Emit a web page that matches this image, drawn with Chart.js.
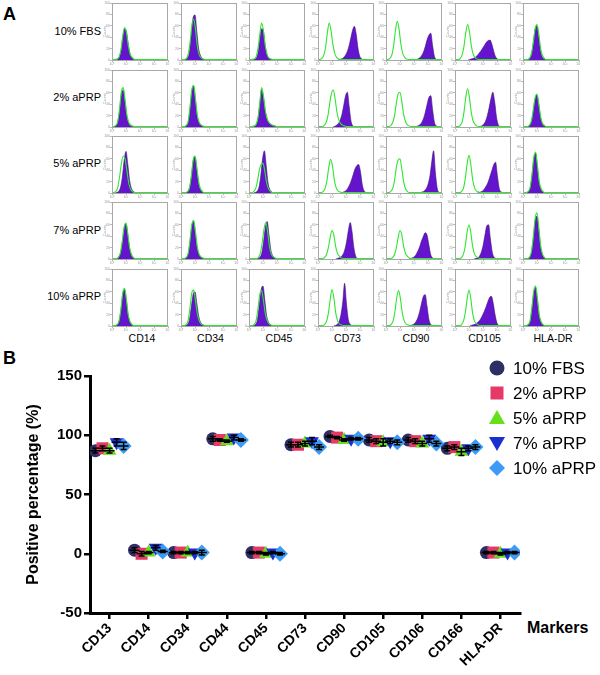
<!DOCTYPE html>
<html>
<head>
<meta charset="utf-8">
<script src="https://cdn.jsdelivr.net/npm/chart.js@4"></script>
<style>
  html, body { margin: 0; padding: 0; background: #fff; }
  body { width: 600px; height: 675px; position: relative; overflow: hidden;
         font-family: 'Liberation Sans', Arial, sans-serif; color: #000; }
  .lbl { position: absolute; white-space: nowrap; }
  canvas { position: absolute; }
</style>
</head>
<body>
<script>
// ---------------- Panel A data ----------------
const rowLabels = ['10% FBS', '2% aPRP', '5% aPRP', '7% aPRP', '10% aPRP'];
const colLabels = ['CD14', 'CD34', 'CD45', 'CD73', 'CD90', 'CD105', 'HLA-DR'];
const histXTicks = ['10⁰', '10¹', '10²', '10³', '10⁴'];
const histYTicks = [0, 20, 40, 60, 80, 100];
const binWidth = 0.13; // decades per histogram bin
// each entry: [peak position in decades, counts per bin], one per marker column
const isoFBS = [
  [0.9, [2,6,18,42,57,48,26,11,5,2,1]],
  [0.9, [1,3,10,30,60,72,55,25,10,4,2,1]],
  [0.9, [2,6,20,45,65,52,25,10,4,2,1]],
  [0.8, [1,3,8,22,48,65,52,28,12,5,2,1,1]],
  [0.8, [1,3,8,24,50,68,55,28,12,5,2,1]],
  [0.9, [1,3,9,24,48,62,50,26,11,5,2,1]],
  [1.0, [1,4,12,32,55,62,45,20,8,3,1]]
];
const posFBS = [
  [0.9, [1,4,15,40,55,50,28,10,4,1,0]],
  [1.0, [1,4,15,45,75,79,50,20,8,3,1,0]],
  [0.9, [1,3,12,35,55,50,25,8,3,1,0]],
  [2.6, [1,2,4,8,14,24,38,52,59,45,20,6,2,0]],
  [3.2, [2,4,8,14,24,36,44,47,25,6,1,0]],
  [2.5, [1,2,3,5,8,12,16,21,26,31,34,35,28,16,6,2,0]],
  [1.0, [1,3,10,30,55,60,40,15,5,2,0]]
];
const iso2 = [
  [0.8, [1,3,10,32,62,69,48,22,9,4,2,1]],
  [0.9, [1,3,10,35,65,73,50,22,9,4,2,1]],
  [0.9, [2,5,16,42,69,55,30,15,8,5,3,2,1]],
  [1.1, [1,3,8,20,42,60,65,48,25,12,6,3,2,1]],
  [1.0, [1,3,8,20,42,58,61,45,22,10,4,2,1]],
  [0.9, [1,3,9,26,52,67,52,26,11,5,2,1]],
  [1.0, [1,4,12,32,52,58,40,18,7,3,1]]
];
const pos2 = [
  [0.8, [1,2,8,28,58,65,45,18,6,2,1,0]],
  [0.9, [1,2,8,30,62,72,48,18,7,3,1,0]],
  [0.9, [1,4,14,40,66,52,28,14,8,5,3,2,1]],
  [2.1, [1,3,6,12,22,38,55,61,35,10,2,0]],
  [3.2, [1,2,4,8,15,26,40,52,55,30,8,2,0]],
  [2.7, [1,2,5,10,20,34,50,61,45,18,4,1,0]],
  [1.0, [1,3,10,28,50,56,38,15,5,2,0]]
];
const iso5 = [
  [0.8, [1,3,10,28,52,65,60,40,18,7,3,1]],
  [1.0, [1,3,10,30,58,65,45,20,8,3,1]],
  [1.0, [1,3,8,22,40,50,52,38,18,8,3,1]],
  [0.9, [1,3,8,22,45,59,48,24,10,4,2,1]],
  [1.0, [1,3,8,22,45,58,60,42,20,8,3,1]],
  [1.0, [1,3,9,26,52,66,50,24,10,4,2,1]],
  [0.9, [1,3,10,32,62,72,48,20,8,3,1]]
];
const pos5 = [
  [1.0, [1,3,10,28,58,73,50,22,8,3,1,0]],
  [1.0, [1,2,8,28,56,64,42,16,6,2,0]],
  [1.1, [1,3,10,30,60,74,48,18,6,2,0]],
  [2.9, [1,2,4,8,14,22,32,42,48,50,38,15,4,1,0]],
  [3.4, [1,2,4,8,16,30,55,74,35,8,1,0]],
  [2.9, [1,2,4,8,13,20,30,40,50,54,30,8,2,0]],
  [0.9, [1,2,8,30,60,70,45,17,6,2,0]]
];
const iso7 = [
  [1.0, [1,4,12,32,56,63,44,20,8,3,1]],
  [0.9, [1,3,10,32,60,68,48,22,9,4,2,1]],
  [1.2, [1,3,10,28,52,64,48,22,9,4,2,1]],
  [1.0, [1,3,8,20,38,50,42,22,10,5,2,1]],
  [1.0, [1,3,8,20,38,50,42,22,10,5,2,1]],
  [1.0, [1,3,9,24,48,60,46,22,9,4,2,1]],
  [1.0, [1,4,14,40,72,81,55,24,9,3,1]]
];
const pos7 = [
  [1.0, [1,3,10,30,55,62,42,18,6,2,0]],
  [0.9, [1,2,8,30,58,66,45,18,7,3,1,0]],
  [1.3, [1,3,10,30,56,66,42,16,6,2,0]],
  [2.3, [1,2,4,8,16,30,50,64,48,20,5,1,0]],
  [2.8, [1,2,4,8,14,22,32,40,46,42,25,8,2,0]],
  [2.4, [1,2,5,12,24,42,58,60,35,12,3,1,0]],
  [1.0, [1,3,12,36,68,75,50,20,7,2,0]]
];
const iso10 = [
  [0.9, [1,3,10,30,58,66,46,20,8,3,1]],
  [0.9, [1,3,10,32,58,63,45,22,10,4,2,1]],
  [0.9, [1,3,10,30,55,62,45,22,10,4,2,1]],
  [1.0, [1,3,8,22,46,64,50,24,10,4,2,1]],
  [0.9, [1,3,9,26,50,62,48,24,10,4,2,1]],
  [1.0, [1,3,9,24,48,63,48,22,9,4,2,1]],
  [0.9, [1,3,10,34,62,70,48,20,8,3,1]]
];
const pos10 = [
  [0.9, [1,2,8,28,56,64,44,17,6,2,0]],
  [1.0, [1,3,12,34,56,60,40,18,7,3,1,0]],
  [1.0, [1,3,12,38,64,70,45,18,7,2,0]],
  [1.9, [1,3,8,20,42,75,40,12,3,1,0]],
  [2.8, [1,2,4,8,15,26,40,52,55,35,12,3,0]],
  [2.6, [1,2,3,5,8,12,18,25,33,42,50,52,40,20,6,1,0]],
  [0.9, [1,2,8,30,58,68,45,17,6,2,0]]
];
const isoRows = [isoFBS, iso2, iso5, iso7, iso10];
const posRows = [posFBS, pos2, pos5, pos7, pos10];

// ---------------- Panel B data ----------------
const markers = ['CD13','CD14','CD34','CD44','CD45','CD73','CD90','CD105','CD106','CD166','HLA-DR'];
const seriesNames = ['10% FBS', '2% aPRP', '5% aPRP', '7% aPRP', '10% aPRP'];
const fbs10  = [87, 3, 1, 97, 1, 92, 99, 96, 96, 89, 1];
const aprp2  = [89, 0, 1, 96, 1, 92, 98, 95, 95, 90, 1];
const aprp5  = [87, 1, 1, 95, 0, 93, 96, 94, 93, 86, 0];
const aprp7  = [94, 5, 1, 98, 1, 95, 97, 95, 97, 89, 1];
const aprp10 = [91, 2, 1, 96, 0, 90, 97, 94, 93, 90, 1];
const sdFbs10  = [2, 2, 1, 2, 1, 2, 1, 2, 2, 2, 1];
const sdAprp2  = [2, 2, 1, 1, 1, 2, 1, 2, 2, 2, 1];
const sdAprp5  = [2, 1, 1, 1, 1, 2, 1, 3, 2, 3, 1];
const sdAprp7  = [3, 2, 1, 2, 1, 3, 1, 2, 3, 2, 1];
const sdAprp10 = [3, 1, 2, 1, 1, 2, 1, 2, 2, 2, 1];
const yTicksB = [-50, 0, 50, 100, 150];

// ---------------- styles ----------------
const FONT = "'Liberation Sans', Arial, sans-serif";
const PURPLE = '#6414cc';
const GREEN = '#2fe62f';
const seriesColors = ['#2e2f66', '#e53a66', '#66e01a', '#1a2fd0', '#3d9bf5'];
const seriesStyles = ['circle', 'rect', 'triangle', 'triangle', 'rectRot'];
const seriesRot = [0, 0, 0, 180, 0];
const seriesRadius = [6.5, 8.5, 8, 8, 8];
const seriesOffset = [-0.36, -0.18, 0, 0.18, 0.36];

const colLeft = [112, 180.5, 249, 317.5, 386, 454.5, 523];
const rowTop = [3, 69.5, 135.5, 202, 268.5];
const boxW = 56, boxH = 57;

function addLabel(text, css) {
  const d = document.createElement('div');
  d.className = 'lbl';
  d.textContent = text;
  Object.assign(d.style, css);
  document.body.appendChild(d);
  return d;
}

addLabel('A', { left: '3px', top: '4px', fontSize: '18px', fontWeight: 'bold' });
addLabel('B', { left: '3px', top: '348px', fontSize: '18px', fontWeight: 'bold' });

rowLabels.forEach((t, r) => {
  addLabel(t, { right: (600 - 101) + 'px', top: (rowTop[r] + boxH / 2 - 7) + 'px', fontSize: '11px' });
});
colLabels.forEach((t, c) => {
  addLabel(t, { left: (colLeft[c] + boxW / 2 + 2) + 'px', top: '332px', fontSize: '10.5px', transform: 'translateX(-50%)' });
});

const boxPlugin = {
  id: 'boxPlugin',
  afterDraw(chart) {
    const { ctx, chartArea: a } = chart;
    ctx.save();
    ctx.strokeStyle = '#a8a8a8';
    ctx.lineWidth = 1;
    ctx.strokeRect(Math.round(a.left) + 0.5, Math.round(a.top) + 0.5,
                   Math.round(a.right - a.left) - 1, Math.round(a.bottom - a.top));
    ctx.fillStyle = '#9a9a9a';
    ctx.font = '3.5px ' + FONT;
    ctx.textAlign = 'center';
    ctx.textBaseline = 'top';
    const xs = chart.scales.x, ys = chart.scales.y;
    histXTicks.forEach((t, i) => ctx.fillText(t, xs.getPixelForValue(i), a.bottom + 2.5));
    ctx.textAlign = 'right';
    ctx.textBaseline = 'middle';
    histYTicks.forEach(v => ctx.fillText(String(v), a.left - 2, ys.getPixelForValue(v)));
    ctx.translate(a.left - 7, (a.top + a.bottom) / 2);
    ctx.rotate(-Math.PI / 2);
    ctx.textAlign = 'center';
    ctx.fillText('Counts', 0, 0);
    ctx.restore();
  }
};

function curvePoints(entry, isIso) {
  const [peak, v] = entry;
  const k = v.indexOf(Math.max(...v));
  const pts = v.map((y, i) => ({ x: peak + (i - k) * binWidth, y }));
  if (isIso) {
    pts.unshift({ x: 0, y: 0.6 });
    pts.push({ x: 4, y: 0.6 });
  } else {
    pts.unshift({ x: peak - (k + 1) * binWidth, y: 0 });
  }
  return pts.filter(p => p.x >= 0 && p.x <= 4);
}

for (let r = 0; r < 5; r++) {
  for (let c = 0; c < 7; c++) {
    const cv = document.createElement('canvas');
    const W = boxW + 12, H = boxH + 9;
    cv.width = W; cv.height = H;
    cv.style.left = (colLeft[c] - 10) + 'px';
    cv.style.top = (rowTop[r] - 2) + 'px';
    cv.style.width = W + 'px'; cv.style.height = H + 'px';
    document.body.appendChild(cv);
    new Chart(cv, {
      type: 'line',
      data: {
        datasets: [
          { data: curvePoints(isoRows[r][c], true), borderColor: GREEN, borderWidth: 1.1,
            pointRadius: 0, fill: false, cubicInterpolationMode: 'monotone' },
          { data: curvePoints(posRows[r][c], false), borderColor: '#3a1670', borderWidth: 0.6,
            backgroundColor: PURPLE, pointRadius: 0, fill: 'origin', cubicInterpolationMode: 'monotone' }
        ]
      },
      options: {
        responsive: false, animation: false, devicePixelRatio: 1, events: [],
        layout: { padding: { left: 0, right: 2, top: 2, bottom: 0 } },
        plugins: { legend: { display: false }, tooltip: { enabled: false } },
        scales: {
          x: { type: 'linear', min: 0, max: 4,
               ticks: { display: false, stepSize: 1 },
               grid: { drawOnChartArea: false, drawTicks: true, tickLength: 2, color: '#a8a8a8', lineWidth: 0.8 },
               border: { display: false },
               afterFit: s => { s.height = 7; } },
          y: { min: 0, max: 100,
               ticks: { display: false, stepSize: 20 },
               grid: { drawOnChartArea: false, drawTicks: true, tickLength: 2, color: '#a8a8a8', lineWidth: 0.8 },
               border: { display: false },
               afterFit: s => { s.width = 10; } }
        }
      },
      plugins: [boxPlugin]
    });
  }
}

// ---------------- Panel B ----------------
addLabel('Markers', { left: '527px', top: '619px', fontSize: '16px', fontWeight: 'bold' });

const seriesData = [fbs10, aprp2, aprp5, aprp7, aprp10];
const seriesSd = [sdFbs10, sdAprp2, sdAprp5, sdAprp7, sdAprp10];

const errPlugin = {
  id: 'errPlugin',
  afterDatasetsDraw(chart) {
    const { ctx } = chart;
    const xs = chart.scales.x, ys = chart.scales.y;
    ctx.save();
    ctx.strokeStyle = '#000';
    ctx.lineWidth = 1.5;
    seriesData.forEach((vals, s) => {
      vals.forEach((v, i) => {
        const px = xs.getPixelForValue(i + seriesOffset[s]);
        const py = ys.getPixelForValue(v);
        const top = ys.getPixelForValue(v + seriesSd[s][i]);
        const bot = ys.getPixelForValue(v - seriesSd[s][i]);
        ctx.beginPath();
        ctx.moveTo(px - 5, py); ctx.lineTo(px + 5, py);
        ctx.moveTo(px, top); ctx.lineTo(px, bot);
        ctx.moveTo(px - 3, top); ctx.lineTo(px + 3, top);
        ctx.moveTo(px - 3, bot); ctx.lineTo(px + 3, bot);
        ctx.stroke();
      });
    });
    ctx.restore();
  },
  afterDraw(chart) {
    const { ctx } = chart;
    ctx.save();
    const cvTop = 340;
    seriesNames.forEach((name, s) => {
      const cx = 497, cy = 368 + s * 25 - cvTop;
      ctx.fillStyle = seriesColors[s];
      ctx.beginPath();
      if (s === 0) { ctx.arc(cx, cy, 7.5, 0, Math.PI * 2); }
      else if (s === 1) { ctx.rect(cx - 6.5, cy - 6.5, 13, 13); }
      else if (s === 2) { ctx.moveTo(cx, cy - 8); ctx.lineTo(cx + 8, cy + 6); ctx.lineTo(cx - 8, cy + 6); ctx.closePath(); }
      else if (s === 3) { ctx.moveTo(cx - 8, cy - 6); ctx.lineTo(cx + 8, cy - 6); ctx.lineTo(cx, cy + 8); ctx.closePath(); }
      else { ctx.moveTo(cx, cy - 8); ctx.lineTo(cx + 8, cy); ctx.lineTo(cx, cy + 8); ctx.lineTo(cx - 8, cy); ctx.closePath(); }
      ctx.fill();
      ctx.fillStyle = '#000';
      ctx.font = '17px ' + FONT;
      ctx.textAlign = 'left';
      ctx.textBaseline = 'middle';
      ctx.fillText(name, 513, cy + 1);
    });
    ctx.restore();
  }
};

const cvB = document.createElement('canvas');
cvB.width = 600; cvB.height = 335;
cvB.style.left = '0px'; cvB.style.top = '340px';
cvB.style.width = '600px'; cvB.style.height = '335px';
document.body.appendChild(cvB);

new Chart(cvB, {
  type: 'scatter',
  data: {
    datasets: seriesData.map((vals, s) => ({
      label: seriesNames[s],
      data: vals.map((v, i) => ({ x: i + seriesOffset[s], y: v })),
      pointStyle: seriesStyles[s],
      rotation: seriesRot[s],
      pointRadius: seriesRadius[s],
      backgroundColor: seriesColors[s],
      borderColor: seriesColors[s],
      borderWidth: 0,
      order: 4 - s
    }))
  },
  options: {
    responsive: false, animation: false, devicePixelRatio: 1, events: [],
    layout: { padding: { left: 24, right: 80, top: 36, bottom: 0 } },
    plugins: { legend: { display: false }, tooltip: { enabled: false } },
    scales: {
      x: {
        type: 'linear', min: -0.5, max: 10.5,
        afterBuildTicks: s => { s.ticks = markers.map((_, i) => ({ value: i })); },
        ticks: {
          callback: (v) => markers[Math.round(v)],
          font: { family: FONT, size: 14, weight: 'bold' }, color: '#000',
          maxRotation: 45, minRotation: 45, padding: 1, autoSkip: false
        },
        grid: { drawOnChartArea: false, drawTicks: true, tickLength: 6, color: '#000', lineWidth: 2.5 },
        border: { display: true, color: '#000', width: 3 },
        afterFit: s => { s.height = 62; }
      },
      y: {
        min: -50, max: 150,
        afterBuildTicks: s => { s.ticks = yTicksB.map(v => ({ value: v })); },
        ticks: { font: { family: FONT, size: 15, weight: 'bold' }, color: '#000', padding: 2 },
        grid: { drawOnChartArea: false, drawTicks: true, tickLength: 6, color: '#000', lineWidth: 2.5 },
        border: { display: true, color: '#000', width: 3 },
        title: { display: true, text: 'Positive percentage (%)', font: { family: FONT, size: 16, weight: 'bold' }, color: '#000', padding: 0 },
        afterFit: s => { s.width = 66; }
      }
    }
  },
  plugins: [errPlugin]
});
</script>
</body>
</html>
